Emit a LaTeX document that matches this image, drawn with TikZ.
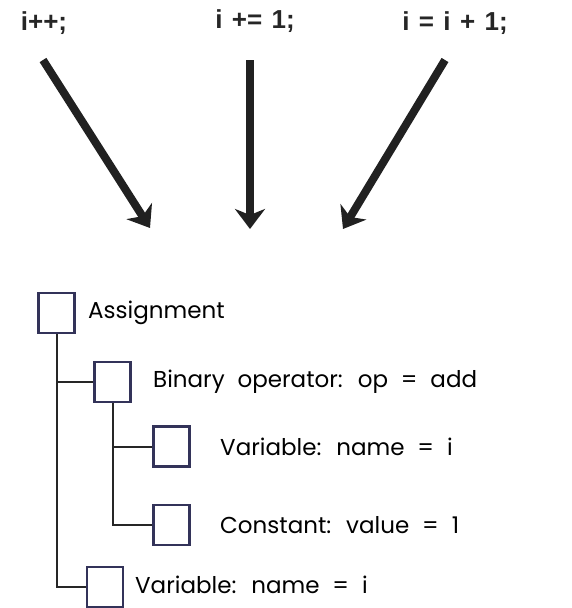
\documentclass[tikz,border=0pt]{standalone}
\usepackage{fontspec}
\setmainfont{Poppins}[WordSpace=2.1]
\newfontfamily\topfont{Liberation Sans}[WordSpace=1.3]
\usetikzlibrary{arrows.meta}
\begin{document}
\begin{tikzpicture}[x=1pt,y=-1pt,
  toplabel/.style={anchor=base, inner sep=0pt, font=\topfont\bfseries\fontsize{26}{30}\selectfont, text=black!85},
  bigarrow/.style={line width=8pt, draw=black!87, -{Stealth[length=20pt,width=30pt,inset=6pt]}},
  treebox/.style={draw=black!75!blue!60!gray, line width=2.4pt, minimum width=36pt, minimum height=40pt, inner sep=0pt},
  treelabel/.style={anchor=west, inner sep=0pt, font=\fontsize{23}{26}\selectfont, text=black},
  treeline/.style={line width=2pt, draw=black!85}]
\useasboundingbox (0,0) rectangle (572,608);
% top labels
\node[toplabel] (l1) at (44,30) {i++;};
\node[toplabel] (l2) at (255,28) {i += 1;};
\node[toplabel] (l3) at (455,30) {i = i + 1;};
\coordinate (s1) at (43,60);  \coordinate (e1) at (150,228);
\coordinate (s2) at (250,60); \coordinate (e2) at (250,229);
\coordinate (s3) at (445,60); \coordinate (e3) at (343,229);
\draw[bigarrow] (s1) -- (e1);
\draw[bigarrow] (s2) -- (e2);
\draw[bigarrow] (s3) -- (e3);
% tree boxes
\node[treebox] (a) at (56.5,313) {};
\node[treebox] (bin) at (112.5,382) {};
\node[treebox] (v1) at (171.5,446.5) {};
\node[treebox] (c) at (171.5,525) {};
\node[treebox] (v2) at (105,587) {};
% labels
\node[treelabel] (ta) at (88,313) {Assignment};
\node[treelabel] (tbin) at (153,382) {Binary operator: op = add};
\node[treelabel] (tv1) at (220,447) {Variable: name = i};
\node[treelabel] (tc) at (220,525) {Constant: value = 1};
\node[treelabel] (tv2) at (135,585) {Variable: name = i};
% connectors
\draw[treeline] (a.south) |- (v2.west);
\draw[treeline] (a.south |- bin.west) -- (bin.west);
\draw[treeline] (bin.south) |- (c.west);
\draw[treeline] (bin.south |- v1.west) -- (v1.west);
\end{tikzpicture}
\end{document}
